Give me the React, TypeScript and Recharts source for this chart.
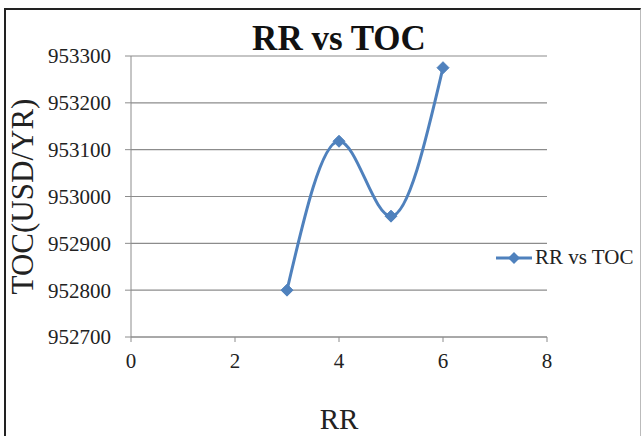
import React from 'react';
import {
  LineChart,
  Line,
  XAxis,
  YAxis,
  CartesianGrid,
  Legend,
  Label,
} from 'recharts';

// reflux ratio vs total operating cost
const rrValues = [3, 4, 5, 6];
const tocValues = [952800, 953118, 952958, 953275];
const xTicks = [0, 2, 4, 6, 8];
const yTicks = [952700, 952800, 952900, 953000, 953100, 953200, 953300];

const seriesName = 'RR vs TOC';
const lineColor = '#4F81BD';
const serif = '"Liberation Serif", "Times New Roman", serif';

const chartData = rrValues.map((rr, i) => ({ rr, toc: tocValues[i] }));

const Diamond = (props: any) => {
  const { cx, cy } = props;
  if (cx == null || cy == null) return null;
  const r = 6;
  return (
    <path
      d={`M${cx},${cy - r} L${cx + r},${cy} L${cx},${cy + r} L${cx - r},${cy} Z`}
      fill={lineColor}
      stroke={lineColor}
    />
  );
};

const LegendContent = (props: any) => {
  const item = props.payload && props.payload[0];
  return (
    <div style={{ display: 'flex', alignItems: 'center', fontFamily: serif, fontSize: 21, color: '#222' }}>
      <svg width={38} height={14} style={{ marginRight: 2 }}>
        <line x1={1} y1={7} x2={37} y2={7} stroke={lineColor} strokeWidth={3} />
        <path d="M19,1 L25,7 L19,13 L13,7 Z" fill={lineColor} />
      </svg>
      <span>{item ? item.value : seriesName}</span>
    </div>
  );
};

const YTitle = (props: any) => {
  const { viewBox } = props;
  const cy = viewBox.y + viewBox.height / 2;
  const x = 33;
  return (
    <text
      x={x}
      y={cy}
      transform={`rotate(-90, ${x}, ${cy})`}
      textAnchor="middle"
      fontFamily={serif}
      fontSize={31}
      fill="#222"
    >
      TOC(USD/YR)
    </text>
  );
};

export default function App() {
  return (
    <div
      style={{
        position: 'absolute',
        left: 0,
        top: 0,
        width: 642,
        height: 436,
        background: '#fff',
        overflow: 'hidden',
      }}
    >
      <div
        style={{
          position: 'absolute',
          left: 4,
          top: 8,
          width: 634,
          height: 440,
          borderTop: '2px solid #222',
          borderLeft: '2px solid #222',
          borderRight: '1px solid #bbb',
        }}
      />
      <div
        style={{
          position: 'absolute',
          left: 131,
          width: 416,
          top: 19,
          textAlign: 'center',
          fontFamily: serif,
          fontWeight: 'bold',
          fontSize: 35,
          color: '#111',
        }}
      >
        RR vs TOC
      </div>
      <LineChart
        width={642}
        height={436}
        data={chartData}
        margin={{ top: 56, right: 95, left: 0, bottom: 69 }}
        style={{ position: 'absolute', left: 0, top: 0 }}
      >
        <CartesianGrid vertical={false} stroke="#8c8c8c" strokeWidth={1.2} />
        <XAxis
          dataKey="rr"
          type="number"
          domain={[0, 8]}
          ticks={xTicks}
          height={30}
          tickSize={5}
          tickMargin={11}
          axisLine={{ stroke: '#8c8c8c' }}
          tickLine={{ stroke: '#8c8c8c' }}
          tick={{ fill: '#222', fontFamily: serif, fontSize: 21 }}
        >
          <Label
            value="RR"
            position="bottom"
            offset={41}
            fill="#222"
            fontFamily={serif}
            fontSize={29}
          />
        </XAxis>
        <YAxis
          type="number"
          domain={[952700, 953300]}
          ticks={yTicks}
          width={131}
          tickSize={6}
          tickMargin={14}
          axisLine={{ stroke: '#8c8c8c' }}
          tickLine={{ stroke: '#8c8c8c' }}
          tick={{ fill: '#222', fontFamily: serif, fontSize: 21 }}
        >
          <Label content={<YTitle />} />
        </YAxis>
        <Legend
          layout="horizontal"
          align="center"
          verticalAlign="middle"
          content={<LegendContent />}
          wrapperStyle={{ left: 495, top: 245, width: 147 }}
        />
        <Line
          type="monotone"
          dataKey="toc"
          name={seriesName}
          stroke={lineColor}
          strokeWidth={3}
          dot={<Diamond />}
          activeDot={false}
          isAnimationActive={false}
        />
      </LineChart>
    </div>
  );
}
